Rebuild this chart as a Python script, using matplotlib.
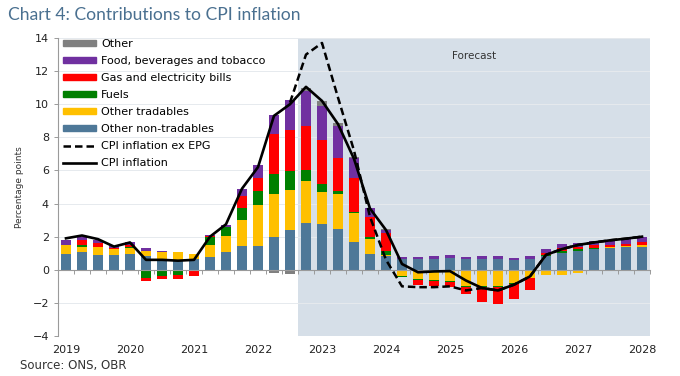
import matplotlib
matplotlib.use("Agg")
import matplotlib.pyplot as plt
import matplotlib.patches as mpatches
import matplotlib.lines as mlines
import numpy as np

# quarterly, 2019Q1 .. 2028Q1
years = ["2019", "2020", "2021", "2022", "2023", "2024", "2025", "2026", "2027", "2028"]

non_tradables = [0.95, 1.05, 0.90, 0.88, 0.95, 0.82, 0.60, 0.55, 0.65, 0.78, 1.10, 1.46,
                 1.42, 2.00, 2.40, 2.80, 2.77, 2.47, 1.70, 0.96, 0.84, 0.64, 0.64, 0.68,
                 0.72, 0.64, 0.68, 0.68, 0.60, 0.68, 0.82, 1.04, 1.12, 1.26, 1.30, 1.36, 1.40]
tradables = [0.52, 0.35, 0.48, 0.38, 0.38, 0.30, 0.45, 0.50, 0.30, 0.72, 0.96, 1.54,
             2.48, 2.60, 2.42, 2.55, 1.95, 2.11, 1.71, 0.90, 0.08, -0.36, -0.55, -0.60,
             -0.66, -0.96, -0.96, -0.96, -0.80, -0.50, -0.30, -0.30, -0.20, -0.08, 0.06, 0.08, 0.10]
fuels = [0.04, 0.10, 0.00, -0.06, 0.05, -0.50, -0.36, -0.30, -0.05, 0.50, 0.50, 0.74,
         0.84, 1.20, 1.16, 0.66, 0.44, 0.20, 0.09, 0.10, 0.20, -0.08, -0.08, -0.10,
         -0.08, -0.08, -0.06, -0.06, -0.04, 0.00, 0.10, 0.12, 0.12, 0.05, 0.02, 0.02, 0.02]
gas_elec = [0.00, 0.28, 0.22, 0.06, 0.12, -0.20, -0.20, -0.28, -0.30, 0.04, 0.05, 0.70,
            0.80, 2.40, 2.45, 2.70, 2.67, 2.00, 2.02, 1.25, 1.10, 0.00, -0.30, -0.30,
            -0.28, -0.42, -0.92, -1.06, -0.94, -0.70, 0.08, 0.14, 0.15, 0.16, 0.14, 0.12, 0.16]
food = [0.30, 0.18, 0.20, 0.12, 0.15, 0.18, 0.10, 0.05, 0.02, 0.06, 0.12, 0.46,
        0.76, 1.15, 1.80, 2.10, 2.05, 1.90, 1.21, 0.50, 0.20, 0.16, 0.16, 0.16,
        0.18, 0.16, 0.18, 0.16, 0.10, 0.16, 0.26, 0.24, 0.24, 0.26, 0.26, 0.28, 0.30]
other = [0.00, 0.04, 0.00, -0.04, 0.00, 0.00, 0.00, 0.00, 0.00, 0.00, 0.00, 0.00,
         -0.10, -0.22, -0.25, 0.20, 0.30, 0.20, 0.10, 0.00, 0.05, 0.00, 0.00, 0.00,
         0.00, 0.00, 0.00, 0.00, 0.00, 0.00, 0.00, 0.00, 0.00, 0.00, 0.00, 0.00, 0.00]

cpi = [1.90, 2.07, 1.85, 1.40, 1.65, 0.60, 0.60, 0.55, 0.60, 2.00, 2.75, 4.90,
       6.20, 9.30, 10.00, 11.05, 10.20, 8.80, 6.70, 3.70, 2.40, 0.35, -0.15, -0.10,
       -0.08, -0.65, -1.10, -1.25, -0.90, -0.40, 0.90, 1.25, 1.50, 1.65, 1.78, 1.88, 2.00]
cpi_ex_epg = [None] * 14 + [10.10, 13.00, 13.70, 10.40, 7.20, 3.20, 0.60, -1.00, -1.05, -1.05,
              -1.00, -1.25, -1.10, -1.25, -0.90, -0.40, 0.90, 1.25, 1.50, 1.65, 1.78, 1.88, 2.00]

forecast_start = 14.5  # between 2022Q3 and 2022Q4

components = [
    ("Other non-tradables", non_tradables, "#4E7898"),
    ("Other tradables", tradables, "#FFC000"),
    ("Fuels", fuels, "#008000"),
    ("Gas and electricity bills", gas_elec, "#FF0000"),
    ("Food, beverages and tobacco", food, "#7030A0"),
    ("Other", other, "#808080"),
]

n = len(cpi)
x = np.arange(n)

fig = plt.figure(figsize=(6.8, 3.76), dpi=100)
ax = fig.add_axes([58 / 680, 1 - 336 / 376, 592 / 680, 298 / 376])

ax.axvspan(forecast_start, n - 0.5, color="#D6DFE8", zorder=0, lw=0)
ax.text((forecast_start + n - 0.5) / 2, 12.9, "Forecast", ha="center", va="center",
        fontsize=7.5, color="#333333")

pos_base = np.zeros(n)
neg_base = np.zeros(n)
for name, vals, col in components:
    v = np.array(vals)
    base = np.where(v >= 0, pos_base, neg_base)
    ax.bar(x, v, width=0.66, bottom=base, color=col, lw=0, zorder=2)
    pos_base = pos_base + np.clip(v, 0, None)
    neg_base = neg_base + np.clip(v, None, 0)

ex = np.array([np.nan if v is None else v for v in cpi_ex_epg], dtype=float)
ax.plot(x, ex, color="black", lw=1.8, ls=(0, (3, 1.6)), zorder=4)
ax.plot(x, cpi, color="black", lw=1.9, zorder=5)

ax.set_xlim(-0.5, n - 0.5)
ax.set_ylim(-4, 14)
ax.set_yticks(np.arange(-4, 15, 2))
ax.grid(axis="y", color="#E6EAEE", lw=0.7, zorder=1)
for gl in ax.get_ygridlines():
    gl.set_zorder(1)

ax.spines["top"].set_visible(False)
ax.spines["right"].set_visible(False)
ax.spines["left"].set_color("#9A9A9A")
ax.spines["left"].set_linewidth(0.8)
ax.spines["bottom"].set_position(("data", 0))
ax.spines["bottom"].set_color("#9A9A9A")
ax.spines["bottom"].set_linewidth(0.8)
ax.spines["bottom"].set_zorder(3)

ax.set_xticks(np.arange(0, n, 4))
ax.set_xticklabels(years)
ax.set_xticks(np.arange(-0.5, n, 1), minor=True)
ax.tick_params(axis="x", which="major", length=0, pad=54, labelsize=8, labelcolor="#222222")
ax.tick_params(axis="x", which="minor", length=3, color="#9A9A9A", width=0.7)
ax.tick_params(axis="y", length=3, color="#9A9A9A", width=0.7, labelsize=8, labelcolor="#222222")
ax.set_ylabel("Percentage points", fontsize=6.5, color="#333333", labelpad=6)

handles = [mpatches.Patch(color=c, label=nm) for nm, _, c in components[::-1]]
handles.append(mlines.Line2D([], [], color="black", lw=1.8, ls=(0, (3, 1.6)), label="CPI inflation ex EPG"))
handles.append(mlines.Line2D([], [], color="black", lw=1.9, label="CPI inflation"))
ax.legend(handles=handles, loc="upper left", bbox_to_anchor=(0.008, 0.998), frameon=False,
          fontsize=8, handlelength=3.0, handleheight=0.45, handletextpad=0.45,
          labelspacing=0.64, borderpad=0, borderaxespad=0)

fig.text(8 / 680, 1 - 15 / 376, "Chart 4: Contributions to CPI inflation", fontsize=12.6,
         family="Lato", color="#4A7090", va="center", ha="left")
fig.text(20 / 680, 1 - 365 / 376, "Source: ONS, OBR", fontsize=8.5, color="#333333",
         va="center", ha="left")

fig.savefig("out.png", dpi=100)
